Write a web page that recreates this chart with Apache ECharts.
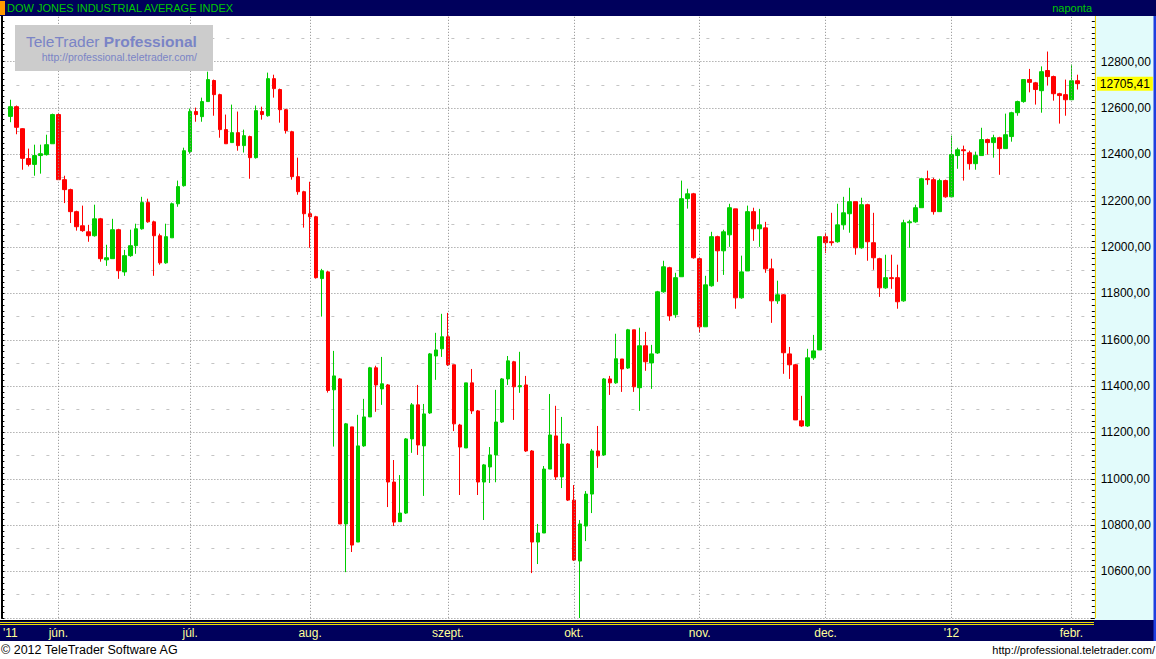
<!DOCTYPE html>
<html><head><meta charset="utf-8">
<script src="https://cdn.jsdelivr.net/npm/echarts@6/dist/echarts.min.js"></script>
<style>html,body{margin:0;padding:0;background:#fff;overflow:hidden}#c{width:1156px;height:659px}</style>
</head><body><div id="c"></div>
<script>
// ---- data (DJIA daily OHLC, 19 May 2011 – 2 Feb 2012) ----
const opens=[12564,12606,12511,12382,12357,12395,12399,12446,12572,12291,
12248,12153,12092,12066,12049,12122,11945,11950,12075,11893,
11963,12006,12079,12192,12109,12049,11932,12040,12187,12265,
12412,12585,12563,12628,12719,12658,12507,12451,12494,12438,
12477,12386,12585,12567,12727,12680,12593,12498,12304,12239,
12144,12131,11864,11893,11384,11431,10805,11224,10727,11142,
11267,11479,11388,11405,10986,10815,10852,11172,11319,11142,
11284,11530,11561,11613,11492,11232,11133,11414,11293,10986,
11051,11103,11245,11431,11505,11397,11405,11120,10727,10766,
11042,11185,11008,11150,10908,10645,10796,10934,11120,11103,
11431,11414,11517,11478,11643,11393,11574,11500,11543,11807,
11911,11708,11872,12209,12230,11950,11656,11833,12045,11984,
12053,12165,11781,11897,12153,12079,12083,11906,11768,11794,
11539,11492,11250,11228,11522,11556,12045,12023,12023,12096,
12144,12196,11997,12183,12019,11950,11824,11868,11868,11768,
12105,12109,12170,12295,12291,12153,12287,12217,12395,12420,
12407,12360,12395,12464,12451,12472,12425,12477,12580,12628,
12723,12709,12675,12762,12736,12662,12658,12636,12718];
const closes=[12606,12517,12383,12357,12395,12403,12442,12572,12291,12248,
12153,12088,12071,12049,12122,11950,11954,12075,11898,11963,
12006,12079,12192,12109,12049,11932,12045,12187,12261,12416,
12585,12572,12628,12723,12658,12507,12446,12494,12438,12481,
12386,12589,12572,12727,12684,12593,12503,12304,12239,12144,
12131,11868,11898,11381,11444,10805,11237,10714,11142,11267,
11479,11405,11410,10986,10813,10852,11172,11319,11146,11280,
11539,11556,11613,11492,11237,11137,11414,11293,10986,11060,
11103,11245,11431,11509,11397,11402,11120,10727,10766,11042,
11189,11008,11150,10908,10649,10805,10934,11120,11099,11431,
11414,11518,11474,11643,11397,11574,11505,11539,11807,11915,
11703,11868,12209,12230,11954,11656,11837,12045,11984,12066,
12170,11781,11893,12153,12079,12096,11906,11768,11794,11544,
11492,11254,11228,11522,11552,12045,12019,12019,12096,12148,
12196,11997,12183,12023,11954,11824,11868,11864,11764,12105,
12109,12170,12295,12291,12153,12287,12217,12399,12420,12416,
12360,12395,12464,12451,12472,12425,12485,12580,12628,12723,
12711,12680,12757,12736,12662,12654,12636,12718,12705.41];
const lows=[12539,12487,12334,12348,12308,12317,12395,12446,12291,12190,
12104,12071,12066,12023,12045,11937,11919,11950,11863,11876,
11958,11971,12075,12105,11876,11924,11928,12040,12174,12261,
12403,12541,12541,12628,12567,12472,12446,12451,12416,12408,
12295,12382,12550,12563,12645,12537,12490,12291,12226,12084,
11997,11864,11700,11372,11139,10805,10597,10684,10727,11138,
11267,11289,11319,10878,10796,10815,10848,11112,11103,10926,
11280,11427,11526,11487,11206,10930,11133,11280,10930,10822,
10982,10985,11241,11405,11254,11371,11116,10593,10632,10766,
11042,10995,10960,10904,10645,10399,10731,10852,11047,11099,
11362,11410,11375,11474,11375,11293,11466,11388,11539,11803,
11682,11695,11872,12166,11950,11630,11656,11829,11850,11880,
12001,11734,11777,11897,12027,12001,11889,11673,11755,11453,
11431,11254,11224,11224,11513,11556,11975,12006,12019,12075,
12062,11967,11993,11941,11902,11785,11820,11820,11734,11764,
11997,12105,12170,12269,12140,12153,12213,12217,12338,12287,
12334,12334,12395,12399,12386,12312,12425,12455,12567,12623,
12668,12615,12580,12697,12632,12533,12567,12636,12680];
const highs=[12636,12611,12513,12425,12442,12442,12485,12576,12579,12308,
12252,12157,12179,12096,12183,12126,12010,12122,12079,11988,
12075,12101,12217,12209,12114,12058,12101,12192,12287,12429,
12598,12602,12645,12757,12723,12662,12572,12615,12585,12507,
12481,12611,12606,12753,12744,12684,12597,12502,12386,12243,
12282,12135,11906,11898,11552,11435,11241,11224,11276,11345,
11483,11488,11526,11409,11081,11016,11176,11327,11405,11323,
11543,11630,11712,11716,11492,11237,11414,11474,11297,11064,
11137,11384,11435,11530,11509,11548,11444,11124,10805,11055,
11366,11315,11267,11154,10973,10822,10947,11129,11228,11435,
11444,11626,11517,11647,11643,11652,11634,11578,11811,11941,
11915,11889,12287,12252,12234,11954,11876,12066,12049,12075,
12187,12165,11963,12179,12170,12165,12109,11950,11855,11798,
11569,11496,11358,11561,11621,12045,12062,12148,12187,12217,
12256,12196,12213,12187,12148,11954,11967,11967,11924,12118,
12118,12183,12299,12330,12299,12295,12291,12481,12429,12438,
12416,12412,12515,12468,12485,12476,12576,12584,12632,12723,
12769,12713,12780,12844,12740,12666,12723,12788,12744];
// trading calendar
const firstDay='2011-05-19', lastDay='2012-02-02';
const holidays=['2011-05-30','2011-07-04','2011-09-05','2011-11-24','2011-12-26','2012-01-02','2012-01-16'];
// x-axis tick labels
const tickDates=['2011-05-19','2011-06-01','2011-07-01','2011-08-01','2011-09-01','2011-10-03','2011-11-01','2011-12-01','2012-01-03','2012-02-01'];
const tickLabels=["'11",'jún.','júl.','aug.','szept.','okt.','nov.','dec.',"'12",'febr.'];
// y-axis range
const yMin=10400, yMax=13000, yStep=200, yMinorStep=100;

function tradingDays(a,b){
  const out=[]; const [y1,m1,d1]=a.split('-').map(Number); const [y2,m2,d2]=b.split('-').map(Number);
  let t=Date.UTC(y1,m1-1,d1); const end=Date.UTC(y2,m2-1,d2);
  while(t<=end){const d=new Date(t); const s=d.toISOString().slice(0,10); const w=d.getUTCDay();
    if(w!==0&&w!==6&&holidays.indexOf(s)<0) out.push(s); t+=86400000;}
  return out;
}
const dates=tradingDays(firstDay,lastDay);
const labelMap={}; tickDates.forEach((d,i)=>labelMap[d]=tickLabels[i]);
const cats=['p0'].concat(dates,['p1','p2']);
const ohlc=['-'].concat(dates.map((d,i)=>[opens[i],closes[i],lows[i],highs[i]]),['-','-']);
const lastClose=closes[closes.length-1];
const FONT='"Liberation Sans", Arial, sans-serif';
const NAVY='#00005c';
const fmt=v=>v.toFixed(2).replace('.',',');

const chart=echarts.init(document.getElementById('c'),null,{renderer:'svg'});
chart.setOption({
  animation:false,
  backgroundColor:'#ffffff',
  grid:{left:0.3,top:15.4,width:1092,height:602.4},
  xAxis:{type:'category',data:cats,boundaryGap:true,
    axisLine:{show:false},axisTick:{show:false},splitLine:{show:false},
    axisLabel:{interval:(i,v)=>labelMap[v]!==undefined,formatter:v=>labelMap[v]||'',
      color:'#ffff99',fontSize:12,fontFamily:FONT,margin:9}},
  yAxis:[
    {type:'value',position:'right',offset:2.5,min:yMin,max:yMax,interval:yStep,
      axisLine:{show:true,lineStyle:{color:'#f2d000',width:1}},
      axisTick:{show:true,inside:true,length:4,lineStyle:{color:'#000'}},
      minorTick:{show:true,splitNumber:8,length:3,lineStyle:{color:'#000'}},
      axisLabel:{color:'#000',fontSize:12,fontFamily:FONT,margin:6,
        formatter:v=>(v<=yMin||v>=yMax)?'':fmt(v)},
      splitLine:{show:true,lineStyle:{color:'#8a8a8a',width:1,type:[1,2]}}},
    {type:'value',position:'right',min:yMin,max:yMax,interval:yMinorStep,
      axisLine:{show:false},axisTick:{show:false},axisLabel:{show:false},
      splitLine:{show:true,lineStyle:{color:['rgba(0,0,0,0)','#c4c4c4'],width:1,type:[3,12]}}},
    {type:'value',position:'left',min:yMin,max:yMax,interval:yStep,
      axisLine:{show:true,lineStyle:{color:'#000',width:2}},
      axisTick:{show:true,inside:true,length:3,lineStyle:{color:'#000'}},
      minorTick:{show:true,splitNumber:8,length:3,lineStyle:{color:'#000'}},
      axisLabel:{show:false},splitLine:{show:false}}
  ],
  series:[
    {type:'line',z:1,data:cats.map(()=> '-'),showSymbol:false,silent:true,
      markLine:{silent:true,symbol:'none',animation:false,
        label:{show:false},
        lineStyle:{color:'#8a8a8a',width:1,type:[1,2]},
        data:tickDates.slice(1).map(d=>({xAxis:d}))}},
    {type:'candlestick',z:2,data:ohlc,barWidth:4,
      itemStyle:{color:'#00cc00',color0:'#ff0000',borderColor:'#00cc00',borderColor0:'#ff0000',borderWidth:1},
      markLine:{silent:true,symbol:'none',animation:false,
        data:[{yAxis:lastClose,lineStyle:{color:'rgba(0,0,0,0)',width:0},
          label:{show:true,position:'end',distance:4.5,formatter:()=>fmt(lastClose),
            color:'#000',fontSize:12,fontFamily:FONT,backgroundColor:'#ffff00',padding:[1,3,1,3]}}]}}
  ],
  graphic:[
    {type:'rect',z:-1,shape:{x:1094,y:16,width:62,height:605},style:{fill:'#e2fbfb'}},
    {type:'rect',z:-1,shape:{x:0,y:620,width:1156,height:21},style:{fill:NAVY}},
    {type:'rect',z:-1,shape:{x:0,y:620,width:1094,height:1},style:{fill:'#000'}},
    {type:'rect',z:-1,shape:{x:0,y:622,width:1094,height:1},style:{fill:'#f0e000'}},
    {type:'rect',z:-1,shape:{x:0,y:624,width:1094,height:1},style:{fill:'#f0e000'}},
    {type:'rect',z:50,shape:{x:1153.5,y:16,width:2.5,height:625},style:{fill:'#1f3fdf'}},
    {type:'rect',z:100,shape:{x:0,y:0,width:1156,height:16},style:{fill:NAVY}},
    {type:'rect',z:101,shape:{x:0,y:1,width:5,height:14},style:{fill:'#ff9900'}},
    {type:'text',z:101,x:7,y:8,style:{text:'DOW JONES INDUSTRIAL AVERAGE INDEX',fill:'#00c800',fontSize:11,fontFamily:FONT,verticalAlign:'middle'}},
    {type:'text',z:101,x:1092,y:8,style:{text:'naponta',fill:'#00c800',fontSize:11,fontFamily:FONT,align:'right',verticalAlign:'middle'}},
    {type:'rect',z:100,shape:{x:15,y:25,width:198,height:46},style:{fill:'#cccccc'}},
    {type:'text',z:101,x:26,y:41,style:{text:'{a|TeleTrader }{b|Professional}',verticalAlign:'middle',
      rich:{a:{fontSize:15.5,fontFamily:FONT,fill:'#7a84c6',color:'#7a84c6'},b:{fontSize:15.5,fontFamily:FONT,fontWeight:'bold',fill:'#7a84c6',color:'#7a84c6'}}}},
    {type:'text',z:101,x:197,y:57,style:{text:'http://professional.teletrader.com/',fill:'#7a84c6',fontSize:10.5,fontFamily:FONT,align:'right',verticalAlign:'middle'}},
    {type:'text',z:101,x:1,y:650,style:{text:'© 2012 TeleTrader Software AG',fill:'#000',fontSize:12.5,fontFamily:FONT,verticalAlign:'middle'}},
    {type:'text',z:101,x:1155,y:650,style:{text:'http://professional.teletrader.com/',fill:'#000',fontSize:11,fontFamily:FONT,align:'right',verticalAlign:'middle'}}
  ]
});
</script></body></html>
